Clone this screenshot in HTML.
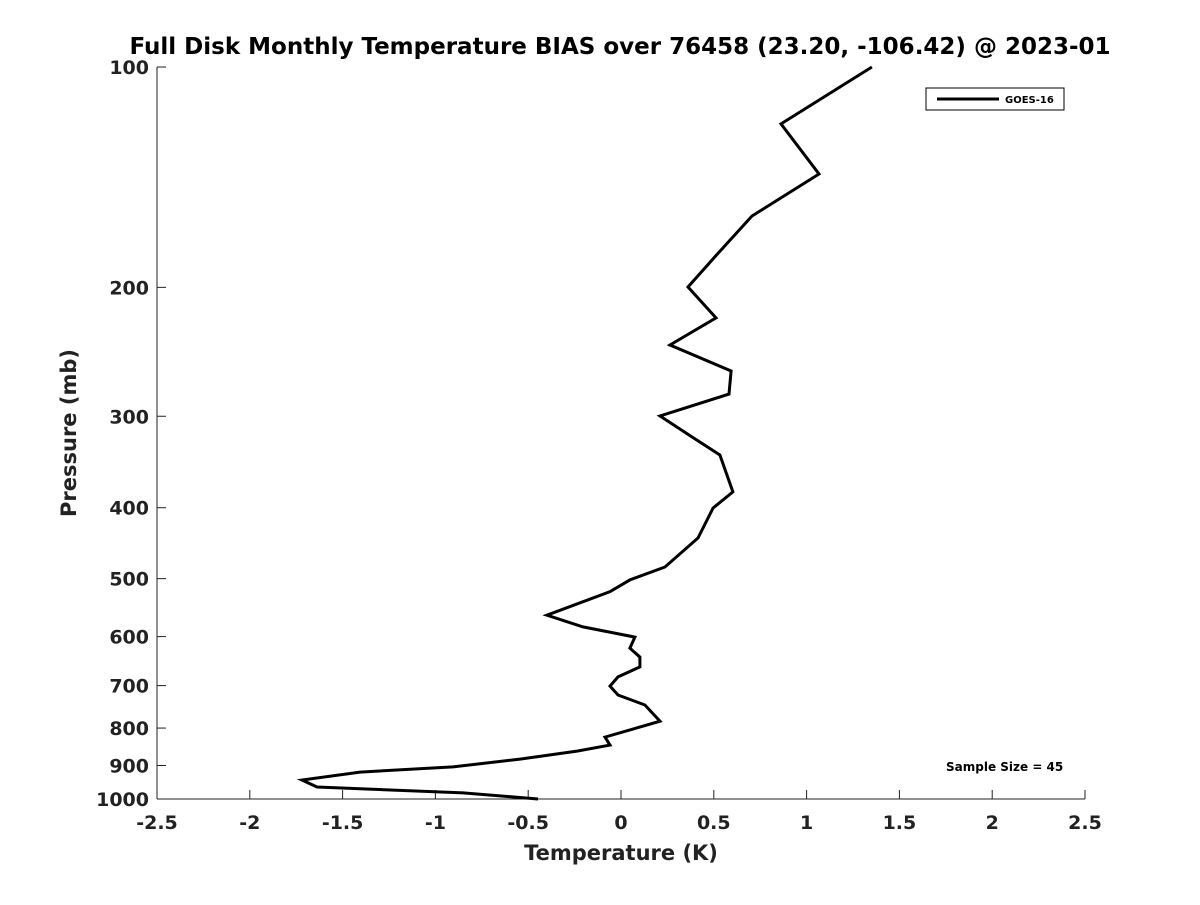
<!DOCTYPE html>
<html><head><meta charset="utf-8"><style>
body{margin:0;background:#fff;}
svg text{font-family:"DejaVu Sans","Liberation Sans",sans-serif;font-weight:bold;fill:#222;}
</style></head><body>
<svg id="chart" width="1200" height="900" viewBox="0 0 1200 900" xmlns="http://www.w3.org/2000/svg">
<rect width="1200" height="900" fill="#fff"/>
<text x="620" y="54" font-size="23" text-anchor="middle" style="fill:#000">Full Disk Monthly Temperature BIAS over 76458 (23.20, -106.42) @ 2023-01</text>
<g id="axes"></g>
<text x="621" y="860" font-size="21" text-anchor="middle">Temperature (K)</text>
<text x="0" y="0" font-size="21" text-anchor="middle" transform="translate(76,433) rotate(-90)">Pressure (mb)</text>
<g>
<rect x="926" y="88" width="138" height="22" fill="#fff" stroke="#000" stroke-width="1"/>
<line x1="937" y1="99" x2="999" y2="99" stroke="#000" stroke-width="3"/>
<text x="1005" y="103" font-size="10" style="fill:#000">GOES-16</text>
</g>
<text x="946" y="771" font-size="12" style="fill:#000">Sample Size = 45</text>
</svg>
<script>
const temps=[1.352,0.862,1.067,0.706,0.523,0.361,0.512,0.264,0.593,0.582,0.210,0.383,0.533,0.603,0.496,0.415,0.237,0.048,-0.059,-0.399,-0.205,0.075,0.048,0.102,0.102,-0.016,-0.059,-0.016,0.129,0.210,-0.086,-0.059,-0.237,-0.544,-0.905,-1.406,-1.719,-1.638,-0.851,-0.447];
const pressures=[100,119.6,140,159.8,179.6,199.8,220.2,239.8,260.2,279.8,299.8,320.2,338.9,380.6,400.4,440,482,502,521,561,582,601,622,640,660,681,701,721,744,783,823,844,860,882,904,919,942,963,981,1000];
const xTicks=[-2.5,-2,-1.5,-1,-0.5,0,0.5,1,1.5,2,2.5];
const xTickLabels=["-2.5","-2","-1.5","-1","-0.5","0","0.5","1","1.5","2","2.5"];
const yTicks=[100,200,300,400,500,600,700,800,900,1000];
const yTickLabels=["100","200","300","400","500","600","700","800","900","1000"];
const NS="http://www.w3.org/2000/svg";
const X0=157,X1=1085,Y0=67,Y1=799;
function xs(v){return X0+(v+2.5)/5*(X1-X0);}
function ys(p){return Y0+(Math.log10(p)-2)*(Y1-Y0);}
const svg=document.getElementById('chart');
const g=document.getElementById('axes');
function mk(tag,attrs){const e=document.createElementNS(NS,tag);for(const k in attrs)e.setAttribute(k,attrs[k]);return e;}
const xa=mk('line',{x1:X0,y1:Y1,x2:X1,y2:Y1,stroke:'#222','stroke-width':1});


g.appendChild(xa);
const ya=mk('line',{x1:X0,y1:Y0,x2:X0,y2:Y1,stroke:'#222','stroke-width':1});


g.appendChild(ya);
xTicks.forEach((v,i)=>{const x=xs(v);
 const t=mk('line',{x1:x,y1:Y1,x2:x,y2:Y1-9,stroke:'#222','stroke-width':1});
 
 
 g.appendChild(t);
 const l=mk('text',{x:x,y:Y1+30,'font-size':19,'text-anchor':'middle'});
 
 
 l.textContent=xTickLabels[i];g.appendChild(l);});
yTicks.forEach((p,i)=>{const y=ys(p);
 const t=mk('line',{x1:X0,y1:y,x2:X0+9,y2:y,stroke:'#222','stroke-width':1});
 
 
 g.appendChild(t);
 const l=mk('text',{x:X0-8,y:y+7,'font-size':19,'text-anchor':'end'});
 
 
 l.textContent=yTickLabels[i];g.appendChild(l);});
const pts=temps.map((t,i)=>xs(t).toFixed(1)+','+ys(pressures[i]).toFixed(1)).join(' ');
const line=mk('polyline',{points:pts,fill:'none',stroke:'#000','stroke-width':3,'stroke-linejoin':'miter'});


svg.appendChild(line);
</script>
</body></html>
